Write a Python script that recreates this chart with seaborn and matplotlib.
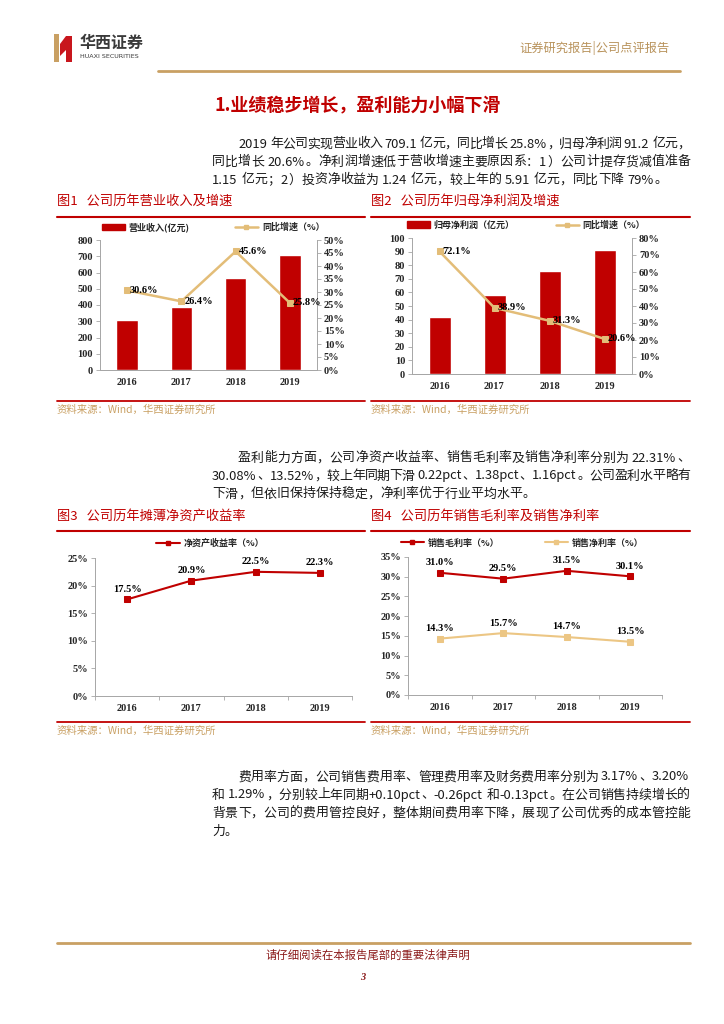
import re
import numpy as np
import matplotlib
matplotlib.use('Agg')
import matplotlib.pyplot as plt
from matplotlib.patches import Patch, Polygon, Rectangle
from matplotlib.lines import Line2D
import seaborn as sns

# %% data

years = ['2016', '2017', '2018', '2019']
revenue = [307.0, 389.0, 564.0, 709.1]          # 营业收入(亿元)
rev_growth = [30.6, 26.4, 45.6, 25.8]           # 同比增速 %
profit = [41.6, 57.8, 75.8, 91.2]               # 归母净利润(亿元)
profit_growth = [72.1, 38.9, 31.3, 20.6]
roe = [17.5, 20.9, 22.5, 22.3]                  # 净资产收益率 %
gross_margin = [31.0, 29.5, 31.5, 30.1]         # 销售毛利率 %
net_margin = [14.3, 15.7, 14.7, 13.5]           # 销售净利率 %

para1 = ["2019 年公司实现营业收入 709.1 亿元，同比增长 25.8%，归母净利润 91.2 亿元，",
         "同比增长 20.6%。净利润增速低于营收增速主要原因系：1）公司计提存货减值准备",
         "1.15 亿元；2）投资净收益为 1.24 亿元，较上年的 5.91 亿元，同比下降 79%。"]
para2 = ["盈利能力方面，公司净资产收益率、销售毛利率及销售净利率分别为 22.31%、",
         "30.08%、13.52%，较上年同期下滑 0.22pct、1.38pct、1.16pct。公司盈利水平略有",
         "下滑，但依旧保持保持稳定，净利率优于行业平均水平。"]
para3 = ["费用率方面，公司销售费用率、管理费用率及财务费用率分别为 3.17%、3.20%",
         "和 1.29%，分别较上年同期+0.10pct、-0.26pct 和-0.13pct。在公司销售持续增长的",
         "背景下，公司的费用管控良好，整体期间费用率下降，展现了公司优秀的成本管控能",
         "力。"]

# %% style

sns.set_style('ticks')
plt.rcParams['font.family'] = ['Liberation Serif', 'Noto Sans CJK SC', 'DejaVu Sans']
plt.rcParams['axes.unicode_minus'] = False
cjk = ['Noto Sans CJK SC', 'DejaVu Sans']

RED = '#C00000'
GOLD = '#E3BD78'
GOLD2 = '#ECC684'
SRC = '#C9A063'
GRAY = '#A6A6A6'
W, H = 724, 1024

fig = plt.figure(figsize=(7.24, 10.24), dpi=100)
bg = fig.add_axes([0, 0, 1, 1], zorder=-5)
bg.set_xlim(0, W)
bg.set_ylim(H, 0)
bg.axis('off')
renderer = fig.canvas.get_renderer()


def px_axes(l, t, r, b):
    return fig.add_axes([l / W, 1 - b / H, (r - l) / W, (b - t) / H])


def ftext(x, y, s, **kw):
    return fig.text(x / W, 1 - y / H, s, **kw)


def put_line(x0, x1, y, s, size=9.3, justify=True):
    ## each cjk char takes one em, ascii runs measured, then spread to the right edge
    toks = re.findall(r'[0-9A-Za-z.%+\-]+| |.', s)
    em = size * 100 / 72
    objs, widths = [], []
    for tk in toks:
        if tk == ' ':
            objs.append(None)
            widths.append(3.0)
            continue
        t = ftext(0, y, tk, fontsize=size, family=cjk, color='#1a1a1a', va='center', ha='left')
        if ord(tk[0]) > 0x2E80:
            w = em
        else:
            w = t.get_window_extent(renderer).width + 1
        objs.append(t)
        widths.append(w)
    gap = (x1 - x0 - sum(widths)) / (len(toks) - 1) if justify else 0
    x = x0
    for t, w in zip(objs, widths):
        if t is not None:
            t.set_position((x / W, 1 - y / H))
        x += w + gap


def put_para(lines, y0, step=18):
    for i, ln in enumerate(lines):
        x0 = 238 if i == 0 else 212
        put_line(x0, 690, y0 + i * step, ln, justify=(i < len(lines) - 1))


# %% header / footer

bg.add_patch(Rectangle((54, 34), 5, 28, color=SRC, lw=0))
bg.add_patch(Polygon([(60, 44), (66, 36), (72, 36), (72, 62), (66, 62), (66, 50), (60, 56)], color='#C8161D', lw=0))
ftext(80, 43, '华西证券', fontsize=11.5, family=cjk, weight='bold', color='#3a3a3a', va='center')
ftext(80, 56, 'HUAXI SECURITIES', fontsize=4.6, family=['DejaVu Sans'], color='#3a3a3a', va='center')
ftext(670, 48, '证券研究报告|公司点评报告', fontsize=8.8, family=cjk, color='#B8925A', ha='right', va='center')
bg.plot([158, 680], [71, 71], color=SRC, lw=2)

bg.plot([57, 690], [943, 943], color=SRC, lw=2)
ftext(368, 955, '请仔细阅读在本报告尾部的重要法律声明', fontsize=8.2, family=cjk, color='#8B1A1A', ha='center', va='center')
ftext(363, 978, '3', fontsize=7.5, weight='bold', style='italic', color='#8B1A1A', ha='center', va='center')

ftext(215, 105, '1.业绩稳步增长，盈利能力小幅下滑', fontsize=13, family=cjk, weight='bold', color=RED, va='center')

put_para(para1, 144)
put_para(para2, 458)
put_para(para3, 777)

# figure titles and rules
for x0, x1, yt, yr, ys, title in [(57, 365, 201, 217, 401, '图1   公司历年营业收入及增速'),
                                  (371, 690, 201, 217, 401, '图2   公司历年归母净利润及增速'),
                                  (57, 365, 516, 531, 722, '图3   公司历年摊薄净资产收益率'),
                                  (371, 690, 516, 531, 722, '图4   公司历年销售毛利率及销售净利率')]:
    ftext(x0, yt, title, fontsize=9.5, family=cjk, color=RED, va='center')
    bg.plot([x0, x1], [yr, yr], color=RED, lw=1.5)
    bg.plot([x0, x1], [ys, ys], color=RED, lw=1.3)
    ftext(x0, ys + 8.5, '资料来源：Wind，华西证券研究所', fontsize=7.5, family=cjk, color=SRC, va='center')


def style_axis(a, ticks, fmt, side='left'):
    a.set_ylim(ticks[0], ticks[-1])
    a.set_yticks(ticks)
    a.set_yticklabels([fmt.format(v) for v in ticks])
    a.tick_params(axis='y', length=3, width=0.6, color=GRAY, labelsize=7.5, pad=2)
    for lab in a.get_yticklabels():
        lab.set_fontweight('bold')
    a.set_ylabel('')
    for s in a.spines.values():
        s.set_color(GRAY)
        s.set_linewidth(0.7)
    a.spines['top'].set_visible(False)


def style_x(a, boundary_ticks=False):
    a.set_xlim(-0.5, 3.5)
    a.set_xticks(range(len(years)))
    a.set_xticklabels(years)
    a.tick_params(axis='x', length=0, labelsize=7.5, pad=6)
    for lab in a.get_xticklabels():
        lab.set_fontweight('bold')
    if boundary_ticks:
        a.set_xticks(np.arange(-0.5, 4, 1), minor=True)
        a.tick_params(axis='x', which='minor', length=3, width=0.6, color=GRAY)
    a.set_xlabel('')


def leg(handles, labels, cx, cy, spacing=5):
    fig.legend(handles, labels, loc='center', bbox_to_anchor=(cx / W, 1 - cy / H), ncol=2, frameon=False,
               prop={'family': cjk, 'size': 6.5, 'weight': 'bold'}, handlelength=2.6, columnspacing=spacing,
               handletextpad=0.4)


lab_kw = dict(textcoords='offset points', fontsize=7.5, fontweight='bold', color='black')

# %% chart 1 revenue

ax1 = px_axes(100, 240, 317, 370)
sns.barplot(x=years, y=revenue, color=RED, saturation=1, width=0.4, ax=ax1)
style_axis(ax1, list(range(0, 801, 100)), '{}')
style_x(ax1)
ax1.spines['right'].set_visible(False)
ax1b = ax1.twinx()
sns.lineplot(x=np.arange(len(years)), y=rev_growth, ax=ax1b, color=GOLD, lw=1.8, marker='s', markersize=4,
             markeredgecolor=GOLD)
style_axis(ax1b, list(range(0, 51, 5)), '{}%')
ax1b.spines['left'].set_visible(False)
ax1b.set_xlim(-0.5, 3.5)
for i, v in enumerate(rev_growth):
    ax1b.annotate(f'{v:.1f}%', (i, v), xytext=(2, 0), ha='left', va='center', **lab_kw)
leg([Patch(color=RED), Line2D([], [], color=GOLD, lw=1.8, marker='s', markersize=3.5)],
    ['营业收入(亿元)', '同比增速（%）'], 213, 227, 5)

# %% chart 2 net profit

ax2 = px_axes(412, 238, 632, 374)
sns.barplot(x=years, y=profit, color=RED, saturation=1, width=0.4, ax=ax2)
style_axis(ax2, list(range(0, 101, 10)), '{}')
style_x(ax2)
ax2.spines['right'].set_visible(False)
ax2b = ax2.twinx()
sns.lineplot(x=np.arange(len(years)), y=profit_growth, ax=ax2b, color=GOLD, lw=1.8, marker='s', markersize=4,
             markeredgecolor=GOLD)
style_axis(ax2b, list(range(0, 81, 10)), '{}%')
ax2b.spines['left'].set_visible(False)
ax2b.set_xlim(-0.5, 3.5)
for i, v in enumerate(profit_growth):
    ax2b.annotate(f'{v:.1f}%', (i, v), xytext=(2, 0), ha='left', va='center', **lab_kw)
leg([Patch(color=RED), Line2D([], [], color=GOLD, lw=1.8, marker='s', markersize=3.5)],
    ['归母净利润（亿元）', '同比增速（%）'], 526, 225, 4.5)

# %% chart 3 roe

ax3 = px_axes(95, 558, 352, 696)
sns.lineplot(x=np.arange(len(years)), y=roe, ax=ax3, color=RED, lw=1.5, marker='s', markersize=4,
             markeredgecolor=RED)
style_axis(ax3, list(range(0, 26, 5)), '{}%')
style_x(ax3, True)
ax3.spines['right'].set_visible(False)
for i, v in enumerate(roe):
    ax3.annotate(f'{v:.1f}%', (i, v), xytext=(0, 4), ha='center', va='bottom', **lab_kw)
leg([Line2D([], [], color=RED, lw=1.5, marker='s', markersize=3.5)], ['净资产收益率（%）'], 210, 543)

# %% chart 4 margins

ax4 = px_axes(408, 557, 662, 695)
sns.lineplot(x=np.arange(len(years)), y=gross_margin, ax=ax4, color=RED, lw=1.5, marker='s', markersize=4,
             markeredgecolor=RED)
sns.lineplot(x=np.arange(len(years)), y=net_margin, ax=ax4, color=GOLD2, lw=1.5, marker='s', markersize=4,
             markeredgecolor=GOLD2)
style_axis(ax4, list(range(0, 36, 5)), '{}%')
style_x(ax4, True)
ax4.spines['right'].set_visible(False)
for series in (gross_margin, net_margin):
    for i, v in enumerate(series):
        ax4.annotate(f'{v:.1f}%', (i, v), xytext=(0, 4), ha='center', va='bottom', **lab_kw)
leg([Line2D([], [], color=RED, lw=1.5, marker='s', markersize=3.5),
     Line2D([], [], color=GOLD2, lw=1.5, marker='s', markersize=3.5)],
    ['销售毛利率（%）', '销售净利率（%）'], 522, 543, 5)

fig.savefig('out.png', dpi=100)
